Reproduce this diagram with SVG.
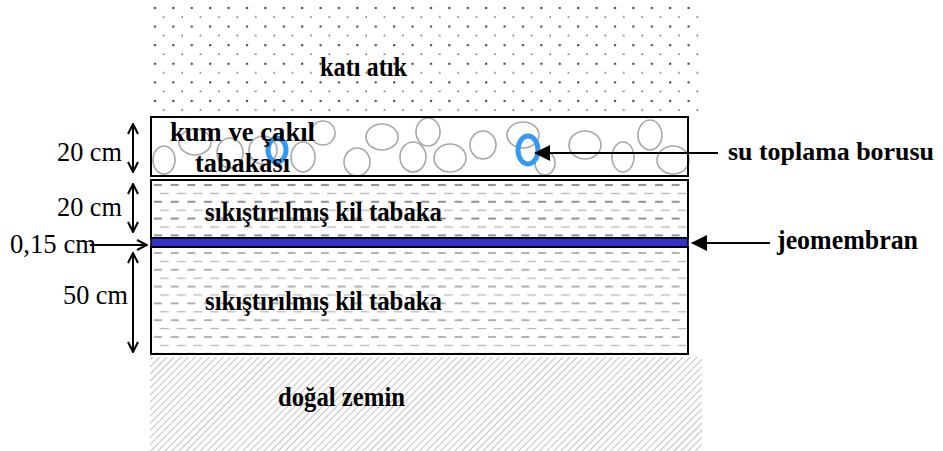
<svg xmlns="http://www.w3.org/2000/svg" width="943" height="451" viewBox="0 0 943 451">
  <style>
    .lbl { font-family: 'Liberation Serif', 'DejaVu Serif', serif; font-weight: 700; font-size: 28px; fill: #000; }
    .lbl-sm { font-size: 25px; }
    .dim { font-family: 'Liberation Serif', 'DejaVu Serif', serif; font-size: 27px; fill: #000; }
    .box { fill: none; stroke: #000; stroke-width: 2; }
    .stone { fill: none; stroke: #a8a8a8; stroke-width: 1.6; }
    .pipe { fill: none; stroke: #3399f3; stroke-width: 5; }
    .dimline { fill: none; stroke: #000; stroke-width: 2; }
    .lead { fill: none; stroke: #000; stroke-width: 2; }
  </style>
  <defs>
    <!-- staggered dot grid for waste -->
    <pattern id="dots" patternUnits="userSpaceOnUse" x="150" y="4" width="18.4" height="18.6">
      <rect x="4" y="3" width="2" height="2" fill="#333"/>
      <rect x="13" y="12.3" width="1.5" height="1.5" fill="#555"/>
    </pattern>
    <!-- dashed rows for clay -->
    <pattern id="clay" patternUnits="userSpaceOnUse" x="151" y="180" width="16.7" height="16.8">
      <line x1="3" y1="5" x2="11" y2="5" stroke="#8f8f8f" stroke-width="2"/>
      <line x1="9" y1="13.4" x2="18" y2="13.4" stroke="#b4b4b4" stroke-width="1.3"/>
      <line x1="-7.7" y1="13.4" x2="1.3" y2="13.4" stroke="#b4b4b4" stroke-width="1.3"/>
    </pattern>
    <pattern id="clay2" patternUnits="userSpaceOnUse" x="151" y="247" width="16.7" height="16.8">
      <line x1="3" y1="6" x2="11" y2="6" stroke="#a4a4a4" stroke-width="1.7"/>
      <line x1="9" y1="14.4" x2="18" y2="14.4" stroke="#b8b8b8" stroke-width="1.3"/>
      <line x1="-7.7" y1="14.4" x2="1.3" y2="14.4" stroke="#b8b8b8" stroke-width="1.3"/>
    </pattern>
    <!-- diagonal hatch for natural soil -->
    <pattern id="hatch" patternUnits="userSpaceOnUse" width="5" height="5" patternTransform="rotate(45)">
      <line x1="0" y1="0" x2="0" y2="5" stroke="#a0a0a0" stroke-width="1.3"/>
    </pattern>
    <marker id="open" viewBox="0 0 12 12" refX="11" refY="6" markerWidth="12" markerHeight="12" markerUnits="userSpaceOnUse" orient="auto-start-reverse">
      <path d="M1,1 L11,6 L1,11" fill="none" stroke="#000" stroke-width="2"/>
    </marker>
    <marker id="solid" viewBox="0 0 16 16" refX="15" refY="8" markerWidth="16" markerHeight="16" markerUnits="userSpaceOnUse" orient="auto">
      <path d="M0,0 L16,8 L0,16 Z" fill="#000"/>
    </marker>
  </defs>

  <rect width="943" height="451" fill="#fff"/>

  <!-- solid waste -->
  <g id="kati-atik">
    <rect x="150" y="4" width="552" height="110" fill="url(#dots)"/>
    <text class="lbl" x="320" y="76" textLength="87" lengthAdjust="spacingAndGlyphs">katı atık</text>
  </g>

  <!-- sand and gravel drainage layer -->
  <g id="kum-cakil">
    <rect x="151" y="117" width="537" height="59" fill="#fff"/>
    <g class="stone">
      <ellipse cx="164" cy="160" rx="11" ry="14"/>
      <ellipse cx="195" cy="142" rx="16" ry="13"/>
      <ellipse cx="230" cy="153" rx="13" ry="15"/>
      <ellipse cx="263" cy="150" rx="14" ry="14"/>
      <ellipse cx="303" cy="157" rx="12" ry="15"/>
      <ellipse cx="323" cy="133" rx="12" ry="12"/>
      <ellipse cx="357" cy="162" rx="13" ry="14"/>
      <ellipse cx="382" cy="137" rx="16" ry="13"/>
      <ellipse cx="413" cy="157" rx="13" ry="15"/>
      <ellipse cx="428" cy="132" rx="12" ry="14"/>
      <ellipse cx="450" cy="158" rx="16" ry="14"/>
      <ellipse cx="483" cy="145" rx="13" ry="14"/>
      <ellipse cx="523" cy="135" rx="16" ry="13"/>
      <ellipse cx="545" cy="163" rx="10" ry="12"/>
      <ellipse cx="585" cy="145" rx="16" ry="14"/>
      <ellipse cx="623" cy="157" rx="11" ry="15"/>
      <ellipse cx="650" cy="135" rx="12" ry="15"/>
      <ellipse cx="673" cy="160" rx="16" ry="14"/>
    </g>
    <ellipse class="pipe" cx="277" cy="150" rx="9" ry="12"/>
    <ellipse class="pipe" cx="528" cy="150" rx="10" ry="14"/>
    <rect class="box" x="151" y="117" width="537" height="59"/>
    <text class="lbl" x="170" y="141" textLength="145" lengthAdjust="spacingAndGlyphs">kum ve çakıl</text>
    <text class="lbl" x="195" y="172" textLength="95" lengthAdjust="spacingAndGlyphs">tabakası</text>
  </g>

  <!-- compacted clay, upper -->
  <g id="kil-ust">
    <rect x="151" y="180" width="537" height="58" fill="url(#clay)"/>
    <rect class="box" x="151" y="180" width="537" height="58"/>
    <text class="lbl" x="205" y="221" textLength="237" lengthAdjust="spacingAndGlyphs">sıkıştırılmış kil tabaka</text>
  </g>

  <!-- geomembrane -->
  <g id="jeomembran">
    <rect x="151" y="238" width="537" height="9" fill="#3434c8" stroke="#000" stroke-width="1.5"/>
  </g>

  <!-- compacted clay, lower -->
  <g id="kil-alt">
    <rect x="151" y="247" width="537" height="107" fill="url(#clay2)"/>
    <rect class="box" x="151" y="247" width="537" height="107"/>
    <text class="lbl" x="205" y="310" textLength="237" lengthAdjust="spacingAndGlyphs">sıkıştırılmış kil tabaka</text>
  </g>

  <!-- natural ground -->
  <g id="dogal-zemin">
    <rect x="150" y="357" width="552" height="94" fill="url(#hatch)"/>
    <text class="lbl" x="278" y="406" textLength="127" lengthAdjust="spacingAndGlyphs">doğal zemin</text>
  </g>

  <!-- thickness labels -->
  <g id="olculer">
    <text class="dim" x="57" y="161" textLength="65" lengthAdjust="spacingAndGlyphs">20 cm</text>
    <text class="dim" x="57" y="216" textLength="65" lengthAdjust="spacingAndGlyphs">20 cm</text>
    <text class="dim" x="10" y="253" textLength="86" lengthAdjust="spacingAndGlyphs">0,15 cm</text>
    <text class="dim" x="63" y="304" textLength="65" lengthAdjust="spacingAndGlyphs">50 cm</text>
  </g>

  <!-- callout labels -->
  <g id="etiketler">
    <text class="lbl lbl-sm" x="728" y="160" textLength="206" lengthAdjust="spacingAndGlyphs">su toplama borusu</text>
    <text class="lbl" x="777" y="249" textLength="141" lengthAdjust="spacingAndGlyphs">jeomembran</text>
  </g>

  <!-- connectors -->
  <g id="baglantilar">
    <line class="dimline" x1="133" y1="124" x2="133" y2="172" marker-start="url(#open)" marker-end="url(#open)"/>
    <line class="dimline" x1="133" y1="184" x2="133" y2="232" marker-start="url(#open)" marker-end="url(#open)"/>
    <line class="dimline" x1="90" y1="245" x2="147" y2="245" marker-end="url(#open)"/>
    <line class="dimline" x1="133" y1="253" x2="133" y2="352" marker-start="url(#open)" marker-end="url(#open)"/>
    <line class="lead" x1="718" y1="153" x2="535" y2="153" marker-end="url(#solid)"/>
    <line class="lead" x1="770" y1="243" x2="692" y2="243" marker-end="url(#solid)"/>
  </g>
</svg>
